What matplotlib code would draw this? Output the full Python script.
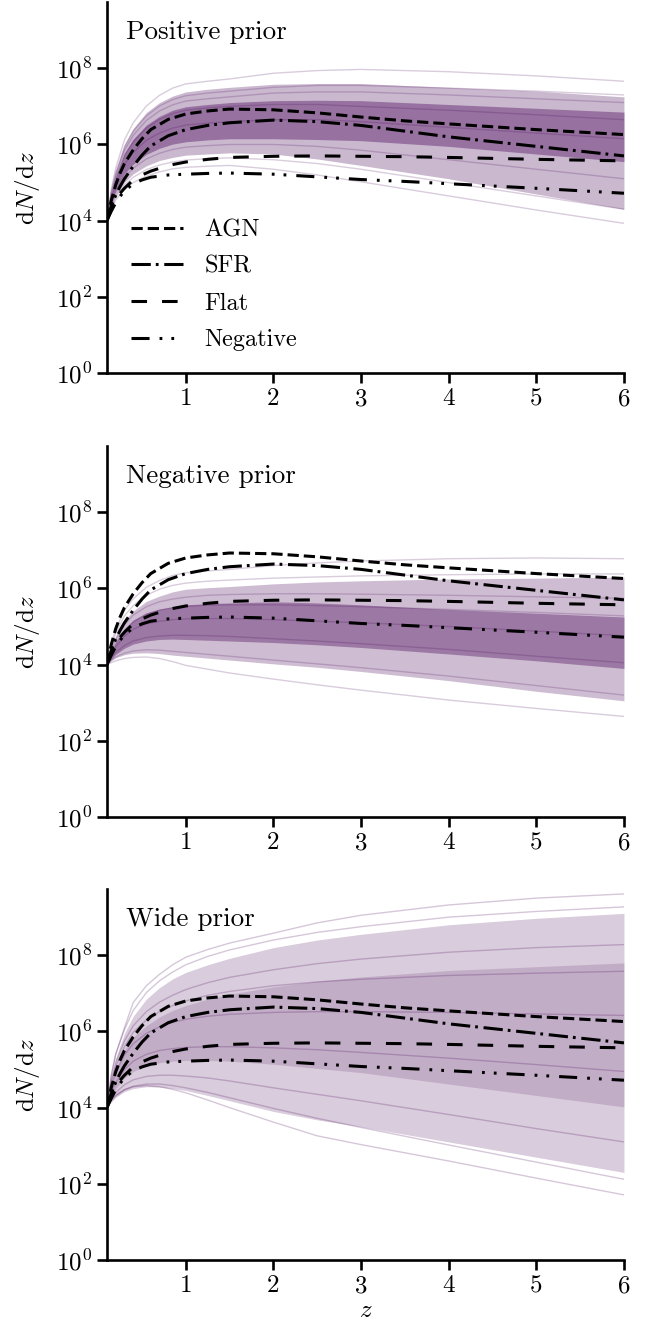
import numpy as np
import matplotlib
matplotlib.use("Agg")
import matplotlib.pyplot as plt
from matplotlib.ticker import FixedLocator, FuncFormatter, NullLocator

# ---------------- data (log10 dN/dz) ----------------
Z_REF = [0.1, 0.125, 0.15, 0.2, 0.25, 0.3, 0.4, 0.5, 0.6, 0.8, 1.0, 1.25, 1.5,
         2.0, 2.5, 3.0, 3.5, 4.0, 5.0, 6.0]
AGN = [4.0, 4.28, 4.53, 4.94, 5.25, 5.5, 5.86, 6.15, 6.39, 6.66, 6.80, 6.88, 6.93,
       6.91, 6.83, 6.72, 6.62, 6.54, 6.39, 6.26]
SFR = [4.0, 4.2, 4.37, 4.67, 4.9, 5.1, 5.43, 5.72, 5.96, 6.23, 6.39, 6.50, 6.57,
       6.64, 6.60, 6.50, 6.35, 6.20, 5.95, 5.70]
FLAT = [4.0, 4.15, 4.29, 4.53, 4.72, 4.85, 5.07, 5.20, 5.30, 5.45, 5.54, 5.61, 5.66,
        5.69, 5.70, 5.69, 5.68, 5.66, 5.61, 5.57]
NEGATIVE = [4.0, 4.13, 4.25, 4.47, 4.64, 4.78, 4.97, 5.07, 5.14, 5.20, 5.22, 5.24, 5.25,
            5.22, 5.15, 5.08, 5.03, 4.97, 4.85, 4.72]

Z_BAND = [0.1, 0.15, 0.2, 0.3, 0.4, 0.55, 0.7, 0.85, 1.0, 1.25, 1.5, 2.0, 2.5,
          3.0, 4.0, 5.0, 6.0]

# Positive prior
POS_HI90 = [4.0, 4.77, 5.3, 6.0, 6.42, 6.84, 7.1, 7.27, 7.38, 7.45, 7.5, 7.58, 7.6, 7.6, 7.5, 7.4, 7.25]
POS_LO90 = [4.0, 4.39, 4.66, 5.01, 5.23, 5.44, 5.58, 5.66, 5.72, 5.75, 5.78, 5.75, 5.62, 5.45, 5.1, 4.7, 4.3]
POS_HI50 = [4.0, 4.68, 5.15, 5.77, 6.14, 6.51, 6.74, 6.9, 6.99, 7.05, 7.1, 7.15, 7.16, 7.15, 7.05, 6.95, 6.85]
POS_LO50 = [4.0, 4.47, 4.8, 5.23, 5.48, 5.74, 5.9, 6.01, 6.07, 6.12, 6.15, 6.15, 6.13, 6.1, 5.95, 5.75, 5.55]
POS_LINES = [
    [4.0, 4.82, 5.38, 6.12, 6.57, 7.01, 7.29, 7.48, 7.59, 7.66, 7.72, 7.87, 7.94, 7.97, 7.91, 7.8, 7.66],
    [4.0, 4.32, 4.54, 4.83, 5.0, 5.17, 5.28, 5.36, 5.4, 5.43, 5.45, 5.35, 5.2, 5.02, 4.65, 4.28, 3.93],
    [4.0, 4.75, 5.26, 5.94, 6.35, 6.75, 7.01, 7.18, 7.28, 7.35, 7.4, 7.5, 7.55, 7.55, 7.48, 7.4, 7.3],
    [4.0, 4.66, 5.11, 5.71, 6.07, 6.43, 6.66, 6.81, 6.9, 6.96, 7.0, 7.05, 7.05, 7.0, 6.9, 6.78, 6.65],
    [4.0, 4.57, 4.96, 5.48, 5.79, 6.11, 6.3, 6.43, 6.51, 6.56, 6.6, 6.65, 6.65, 6.6, 6.45, 6.3, 6.15],
    [4.0, 4.44, 4.74, 5.14, 5.38, 5.62, 5.77, 5.87, 5.93, 5.97, 6.0, 6.0, 5.95, 5.85, 5.6, 5.35, 5.1],
    [4.0, 4.36, 4.61, 4.94, 5.14, 5.34, 5.46, 5.54, 5.59, 5.63, 5.65, 5.6, 5.5, 5.35, 5.0, 4.65, 4.3],
    [4.0, 4.72, 5.2, 5.85, 6.24, 6.63, 6.88, 7.04, 7.14, 7.2, 7.25, 7.35, 7.38, 7.38, 7.3, 7.2, 7.1],
]

# Negative prior
NEG_HI90 = [4.0, 4.45, 4.76, 5.17, 5.41, 5.66, 5.8, 5.91, 5.98, 6.02, 6.05, 6.12, 6.17, 6.2, 6.25, 6.27, 6.3]
NEG_LO90 = [4.0, 4.1, 4.18, 4.26, 4.3, 4.31, 4.29, 4.25, 4.22, 4.17, 4.12, 4.02, 3.93, 3.82, 3.58, 3.3, 3.05]
NEG_HI50 = [4.0, 4.32, 4.58, 4.94, 5.17, 5.36, 5.46, 5.52, 5.57, 5.6, 5.62, 5.65, 5.62, 5.57, 5.45, 5.35, 5.25]
NEG_LO50 = [4.0, 4.14, 4.27, 4.43, 4.54, 4.62, 4.66, 4.67, 4.66, 4.64, 4.62, 4.58, 4.52, 4.45, 4.28, 4.1, 3.9]
NEG_LINES = [
    [4.0, 4.55, 4.93, 5.43, 5.73, 6.03, 6.21, 6.34, 6.41, 6.46, 6.5, 6.6, 6.67, 6.72, 6.78, 6.8, 6.78],
    [4.0, 4.05, 4.1, 4.16, 4.19, 4.2, 4.16, 4.08, 3.98, 3.88, 3.78, 3.62, 3.47, 3.33, 3.07, 2.85, 2.64],
    [4.0, 4.5, 4.83, 5.28, 5.55, 5.82, 5.98, 6.08, 6.14, 6.19, 6.22, 6.27, 6.3, 6.33, 6.36, 6.38, 6.38],
    [4.0, 4.38, 4.66, 5.05, 5.3, 5.52, 5.65, 5.72, 5.77, 5.82, 5.84, 5.86, 5.86, 5.85, 5.82, 5.78, 5.74],
    [4.0, 4.25, 4.46, 4.75, 4.93, 5.07, 5.14, 5.18, 5.2, 5.21, 5.21, 5.18, 5.14, 5.1, 5.0, 4.88, 4.76],
    [4.0, 4.18, 4.32, 4.5, 4.62, 4.71, 4.75, 4.77, 4.77, 4.76, 4.74, 4.68, 4.62, 4.55, 4.4, 4.22, 4.05],
    [4.0, 4.12, 4.2, 4.3, 4.36, 4.39, 4.38, 4.35, 4.32, 4.27, 4.22, 4.12, 4.02, 3.92, 3.7, 3.45, 3.2],
    [4.0, 4.3, 4.55, 4.9, 5.12, 5.32, 5.43, 5.49, 5.53, 5.56, 5.57, 5.57, 5.55, 5.52, 5.45, 5.37, 5.28],
]

# Wide prior
WIDE_HI90 = [4.0, 4.8, 5.3, 5.95, 6.4, 6.85, 7.15, 7.38, 7.55, 7.75, 7.92, 8.2, 8.4, 8.55, 8.8, 8.97, 9.1]
WIDE_LO90 = [4.0, 4.15, 4.27, 4.42, 4.5, 4.55, 4.54, 4.5, 4.45, 4.32, 4.18, 3.9, 3.68, 3.5, 3.1, 2.7, 2.3]
WIDE_HI50 = [4.0, 4.62, 5.02, 5.52, 5.85, 6.15, 6.38, 6.55, 6.68, 6.85, 6.98, 7.17, 7.32, 7.43, 7.6, 7.7, 7.8]
WIDE_LO50 = [4.0, 4.3, 4.5, 4.78, 4.95, 5.1, 5.18, 5.22, 5.24, 5.24, 5.22, 5.14, 5.03, 4.92, 4.62, 4.32, 4.02]
WIDE_LINES = [
    [4.0, 4.85, 5.4, 6.1, 6.76, 7.2, 7.5, 7.75, 7.95, 8.15, 8.32, 8.58, 8.85, 9.05, 9.32, 9.5, 9.61],
    [4.0, 4.2, 4.33, 4.47, 4.55, 4.58, 4.55, 4.48, 4.39, 4.2, 4.0, 3.62, 3.26, 3.03, 2.6, 2.15, 1.71],
    [4.0, 4.85, 5.4, 6.05, 6.55, 7.02, 7.33, 7.56, 7.75, 7.97, 8.14, 8.4, 8.6, 8.75, 9.0, 9.15, 9.27],
    [4.0, 4.72, 5.18, 5.75, 6.15, 6.52, 6.77, 6.95, 7.1, 7.28, 7.42, 7.62, 7.78, 7.9, 8.08, 8.2, 8.28],
    [4.0, 4.55, 4.92, 5.38, 5.68, 5.95, 6.12, 6.24, 6.32, 6.4, 6.45, 6.5, 6.52, 6.52, 6.5, 6.46, 6.42],
    [4.0, 4.4, 4.65, 5.0, 5.22, 5.4, 5.5, 5.55, 5.58, 5.6, 5.6, 5.57, 5.52, 5.45, 5.3, 5.13, 4.95],
    [4.0, 4.25, 4.4, 4.6, 4.73, 4.82, 4.85, 4.85, 4.83, 4.78, 4.7, 4.52, 4.35, 4.18, 3.82, 3.45, 3.1],
    [4.0, 4.18, 4.3, 4.47, 4.56, 4.62, 4.62, 4.58, 4.52, 4.4, 4.26, 3.98, 3.72, 3.48, 3.02, 2.57, 2.12],
    [4.0, 4.65, 5.08, 5.6, 5.98, 6.3, 6.52, 6.68, 6.8, 6.95, 7.05, 7.2, 7.3, 7.37, 7.47, 7.53, 7.58],
]

PANEL_TITLES = ["Positive prior", "Negative prior", "Wide prior"]
REF_LABELS = ["AGN", "SFR", "Flat", "Negative"]
X_TICKS = [1, 2, 3, 4, 5, 6]
Y_TICK_EXP = [0, 2, 4, 6, 8]

# ---------------- style ----------------
plt.rcParams["font.family"] = ["cmr10", "DejaVu Serif"]
plt.rcParams["mathtext.fontset"] = "cm"
plt.rcParams["axes.formatter.use_mathtext"] = True
plt.rcParams["lines.scale_dashes"] = False

PURPLE = "#440154"
LW_REF = 2.2
REF_STYLES = [
    (0, (8.1, 3.6)),
    (0, (13.9, 3.6, 2.0, 4.1)),
    (0, (11.2, 10.8)),
    (0, (13.0, 7.2, 2.0, 6.5, 2.0, 7.2)),
]

fig = plt.figure(figsize=(6.52, 13.3), dpi=100)
bottoms = [0.7195, 0.3857, 0.0526]
H = 0.279
panels = [
    (POS_HI90, POS_LO90, POS_HI50, POS_LO50, POS_LINES, 0.28, 0.38, 0.2),
    (NEG_HI90, NEG_LO90, NEG_HI50, NEG_LO50, NEG_LINES, 0.26, 0.36, 0.2),
    (WIDE_HI90, WIDE_LO90, WIDE_HI50, WIDE_LO50, WIDE_LINES, 0.2, 0.15, 0.22),
]
refs = [AGN, SFR, FLAT, NEGATIVE]

for i, (hi90, lo90, hi50, lo50, lines, a90, a50, al) in enumerate(panels):
    ax = fig.add_axes([0.164, bottoms[i], 0.793, H])
    zb = np.array(Z_BAND)
    ax.fill_between(zb, 10 ** np.array(lo90), 10 ** np.array(hi90),
                    color=PURPLE, alpha=a90, lw=0)
    ax.fill_between(zb, 10 ** np.array(lo50), 10 ** np.array(hi50),
                    color=PURPLE, alpha=a50, lw=0)
    for ln in lines:
        ax.plot(zb, 10 ** np.array(ln), color=PURPLE, alpha=al, lw=1.0)
    handles = []
    for ref, ls, lab in zip(refs, REF_STYLES, REF_LABELS):
        h, = ax.plot(Z_REF, 10 ** np.array(ref), color="black", lw=LW_REF,
                     linestyle=ls, label=lab)
        handles.append(h)

    ax.set_yscale("log")
    ax.set_xlim(0.1, 6)
    ax.set_ylim(1, 10 ** 9.74)
    ax.xaxis.set_major_locator(FixedLocator(X_TICKS))
    ax.xaxis.set_major_formatter(FuncFormatter(lambda v, p: "%d" % v))
    ax.yaxis.set_major_locator(FixedLocator([10.0 ** e for e in Y_TICK_EXP]))
    ax.yaxis.set_major_formatter(
        FuncFormatter(lambda v, p: r"$10^{%d}$" % int(round(np.log10(v)))))
    ax.yaxis.set_minor_locator(NullLocator())
    for s in ["top", "right"]:
        ax.spines[s].set_visible(False)
    for s in ["left", "bottom"]:
        ax.spines[s].set_linewidth(1.9)
    ax.tick_params(axis="both", which="major", direction="out", length=7.2,
                   width=1.9, labelsize=18, pad=3.5)
    ax.set_ylabel(r"$\mathrm{d}N/\mathrm{d}z$", fontsize=18)
    ax.yaxis.set_label_coords(-0.125, 0.5)
    ax.text(0.037, 0.9, PANEL_TITLES[i], transform=ax.transAxes,
            fontsize=19.5, va="baseline", ha="left")
    if i == 0:
        ax.legend(handles=handles, loc="upper left", bbox_to_anchor=(0.046, 0.415),
                  frameon=False, fontsize=17.5, handlelength=2.14,
                  handletextpad=0.9, labelspacing=0.6, borderpad=0,
                  borderaxespad=0)
    if i == 2:
        ax.set_xlabel(r"$z$", fontsize=18, labelpad=2)

fig.savefig("out.png", dpi=100)
